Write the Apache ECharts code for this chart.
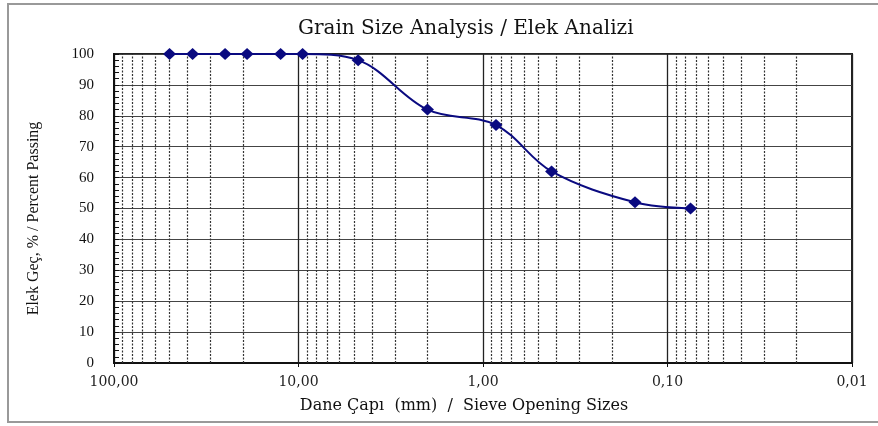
<!DOCTYPE html>
<html>
<head>
<meta charset="utf-8">
<script src="https://cdn.jsdelivr.net/npm/echarts@6/dist/echarts.min.js"></script>
<style>
  html, body { margin: 0; padding: 0; background: #fff; }
  #chart { width: 878px; height: 426px; }
</style>
</head>
<body>
<div id="chart"></div>
<script>
// Sieve opening sizes (mm) and cumulative percent passing
const sieveSizes = [50, 37.5, 25, 19, 12.5, 9.5, 4.75, 2.0, 0.85, 0.425, 0.15, 0.075];
const percentPassing = [100, 100, 100, 100, 100, 100, 98, 82, 77, 62, 52, 50];

// Axis ranges
const xMin = 0.01, xMax = 100;
const yTicks = [0, 10, 20, 30, 40, 50, 60, 70, 80, 90, 100];

// Intermediate log grid lines (2..9 of each decade)
const decades = [0.01, 0.1, 1, 10];
const minorMultipliers = [2, 3, 4, 5, 6, 7, 8, 9];
const minorGridValues = [];
decades.forEach(d => minorMultipliers.forEach(m => minorGridValues.push(+(d * m).toPrecision(3))));

const chart = echarts.init(document.getElementById('chart'));

const serif = 'Liberation Serif';
const wideSerif = 'DejaVu Serif';

chart.setOption({
  animation: false,
  backgroundColor: '#fff',
  title: {
    text: 'Grain Size Analysis / Elek Analizi',
    left: 293,
    top: 14,
    textStyle: { fontFamily: wideSerif, fontSize: 20, fontWeight: 'normal', color: '#111' }
  },
  graphic: [{
    type: 'rect',
    shape: { x: 8, y: 4, width: 900, height: 418 },
    style: { fill: 'none', stroke: '#999', lineWidth: 2 },
    silent: true, z: -1
  }],
  grid: { left: 114, right: 26, top: 54, bottom: 63, show: true, borderColor: '#222', borderWidth: 2, backgroundColor: 'transparent' },
  xAxis: {
    type: 'log',
    logBase: 10,
    min: xMin,
    max: xMax,
    inverse: true,
    name: 'Dane Çapı  (mm)  /  Sieve Opening Sizes',
    nameLocation: 'middle',
    nameGap: 35,
    nameTextStyle: { fontFamily: wideSerif, fontSize: 16, color: '#111', padding: [0, 38, 0, 0] },
    axisLine: { show: true, lineStyle: { color: '#111', width: 2 } },
    axisTick: { show: true, length: 4, lineStyle: { color: '#111' } },
    axisLabel: {
      fontFamily: wideSerif, fontSize: 14, color: '#222', margin: 12,
      formatter: v => v.toFixed(2).replace('.', ',')
    },
    splitLine: { show: true, lineStyle: { color: '#222', width: 1.3 } },
    minorTick: { show: false }
  },
  yAxis: [{
    type: 'value',
    min: yTicks[0],
    max: yTicks[yTicks.length - 1],
    interval: 10,
    name: 'Elek Geç, % / Percent Passing',
    nameLocation: 'middle',
    nameGap: 72,
    nameTextStyle: { fontFamily: serif, fontSize: 16, color: '#111', padding: [0, 20, 0, 0] },
    axisLine: { show: true, lineStyle: { color: '#111', width: 2 } },
    axisTick: { show: false },
    axisLabel: { fontFamily: serif, fontSize: 15, color: '#111', margin: 20 },
    splitLine: { show: true, lineStyle: { color: '#444', width: 1 } }
  }, {
    // fine inward ticks every 2 %
    type: 'value',
    position: 'left',
    min: yTicks[0],
    max: yTicks[yTicks.length - 1],
    interval: 2,
    axisLine: { show: false },
    axisTick: { show: true, inside: true, length: 5, lineStyle: { color: '#111' } },
    axisLabel: { show: false },
    splitLine: { show: false }
  }],
  series: [{
    type: 'line',
    data: sieveSizes.map((s, i) => [s, percentPassing[i]]),
    smooth: 0.35,
    symbol: 'diamond',
    symbolSize: [13, 12],
    color: '#0a0a80',
    lineStyle: { color: '#0a0a80', width: 2 },
    itemStyle: { color: '#0a0a80' },
    z: 5,
    markLine: {
      silent: true,
      symbol: ['none', 'none'],
      label: { show: false },
      lineStyle: { color: '#333', type: [2, 1.5], width: 1.2 },
      data: minorGridValues.map(v => ({ xAxis: v }))
    }
  }]
});
</script>
</body>
</html>
